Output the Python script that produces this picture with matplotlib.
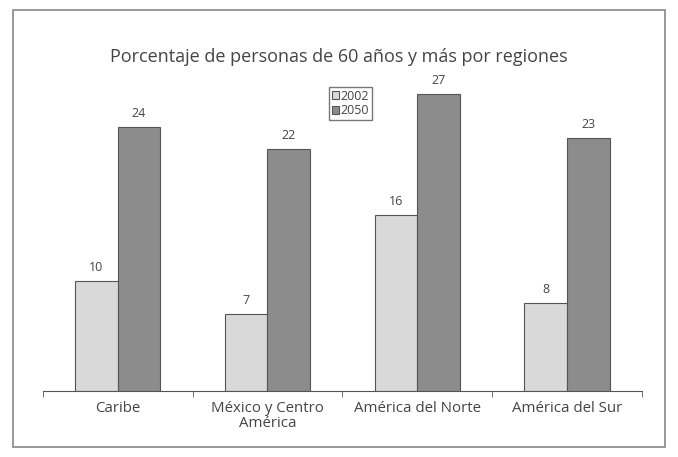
import matplotlib
matplotlib.use('Agg')
import matplotlib.pyplot as plt
from matplotlib.patches import Rectangle
import numpy as np

plt.rcParams['font.family'] = ['Open Sans', 'DejaVu Sans']

regions = ['Caribe', 'México y Centro\nAmérica', 'América del Norte', 'América del Sur']
years = ['2002', '2050']
pct_2002 = [10, 7, 16, 8]
pct_2050 = [24, 22, 27, 23]

text_col = '#444444'
light = '#d9d9d9'
dark = '#8c8c8c'

fig = plt.figure(figsize=(6.78, 4.57), dpi=100)
ax = fig.add_axes([0.063, 0.1444, 0.884, 0.722])

x = np.arange(len(regions))
w = 0.285
b1 = ax.bar(x - w / 2, pct_2002, w, color=light, edgecolor='#555555', linewidth=0.8, label=years[0])
b2 = ax.bar(x + w / 2, pct_2050, w, color=dark, edgecolor='#555555', linewidth=0.8, label=years[1])

for bars in (b1, b2):
    for bar in bars:
        ax.text(bar.get_x() + bar.get_width() / 2, bar.get_height() + 0.6,
                str(int(bar.get_height())), ha='center', va='bottom',
                fontsize=9, color=text_col)

ax.set_xlim(-0.5, len(regions) - 0.5)
ax.set_ylim(0, 30)
ax.set_yticks([])
for s in ['left', 'top', 'right']:
    ax.spines[s].set_visible(False)
ax.spines['bottom'].set_color('#555555')

ax.set_xticks(x)
ax.set_xticklabels(regions, fontsize=10.8, color=text_col, linespacing=1.05)
ax.tick_params(axis='x', which='major', length=0, pad=7)
ax.set_xticks(np.arange(-0.5, len(regions)), minor=True)
ax.tick_params(axis='x', which='minor', length=4, color='#555555', direction='out')

fig.text(0.5, 1 - 57 / 457, 'Porcentaje de personas de 60 años y más por regiones',
         ha='center', va='center', fontsize=13, color=text_col)

leg = fig.legend(handles=[b1, b2], loc='upper left', bbox_to_anchor=(329 / 678, 1 - 87 / 457),
                 fontsize=9, handlelength=0.6, handleheight=0.6, handletextpad=0.15,
                 borderpad=0.2, labelspacing=0.15, borderaxespad=0, fancybox=False, framealpha=1)
leg.get_frame().set_edgecolor('#777777')
leg.get_frame().set_linewidth(1.0)
for t in leg.get_texts():
    t.set_color(text_col)

# outer frame around the chart
fig.patches.append(Rectangle((13 / 678, 1 - 447 / 457), 652 / 678, 437 / 457,
                             transform=fig.transFigure, fill=False,
                             edgecolor='#888888', linewidth=1.2))

fig.savefig('out.png', dpi=100)
